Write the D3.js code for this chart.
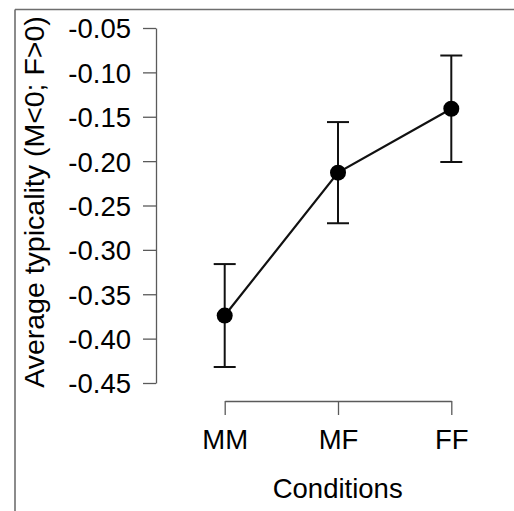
<!DOCTYPE html>
<html>
<head>
<meta charset="utf-8">
<script src="https://cdn.jsdelivr.net/npm/d3@7"></script>
<style>
  html, body { margin: 0; padding: 0; background: #fff; }
  svg { display: block; font-family: "Liberation Sans", Arial, sans-serif; }
</style>
</head>
<body>
<svg id="chart" width="514" height="511"></svg>
<script>
// Condition means with their error-bar limits
const conditions = ["MM", "MF", "FF"];
const means = [-0.374, -0.213, -0.141];
const lower = [-0.432, -0.270, -0.201];
const upper = [-0.316, -0.156, -0.081];
const yTicks = [-0.45, -0.40, -0.35, -0.30, -0.25, -0.20, -0.15, -0.10, -0.05];
const yTickLabels = ["-0.45", "-0.40", "-0.35", "-0.30", "-0.25", "-0.20", "-0.15", "-0.10", "-0.05"];

const svg = d3.select("#chart");
const axisColor = "#5a5a5a";
const ink = "#111";

// Frame edges
svg.append("line").attr("x1", 15).attr("x2", 514).attr("y1", 9.5).attr("y2", 9.5)
  .attr("stroke", "#6e6e6e").attr("stroke-width", 1.6);
svg.append("line").attr("x1", 15).attr("x2", 15).attr("y1", 9.5).attr("y2", 511)
  .attr("stroke", "#6e6e6e").attr("stroke-width", 1.6);

const x = d3.scaleLinear().domain([0, 2]).range([224.7, 451.3]);
const y = d3.scaleLinear().domain([-0.45, -0.05]).range([383, 28]);

// Y axis
const yAxis = svg.append("g").attr("transform", "translate(156,0)")
  .call(d3.axisLeft(y).tickValues(yTicks).tickSize(13).tickSizeOuter(0).tickPadding(12)
    .tickFormat((d, i) => yTickLabels[i]));
yAxis.select(".domain").attr("stroke", axisColor).attr("stroke-width", 1.3);
yAxis.selectAll(".tick line").attr("stroke", axisColor).attr("stroke-width", 1.3);
yAxis.selectAll(".tick text").attr("font-size", 27.5).attr("fill", "#000")
  .attr("font-family", "Liberation Sans, Arial, sans-serif").attr("dy", "0.36em");

// X axis
const xAxis = svg.append("g").attr("transform", "translate(0,401)")
  .call(d3.axisBottom(x).tickValues([0, 1, 2]).tickSize(14).tickSizeOuter(0).tickPadding(14)
    .tickFormat((d, i) => conditions[i]));
xAxis.select(".domain").attr("stroke", axisColor).attr("stroke-width", 1.3);
xAxis.selectAll(".tick line").attr("stroke", axisColor).attr("stroke-width", 1.3);
xAxis.selectAll(".tick text").attr("font-size", 27.5).attr("fill", "#000")
  .attr("font-family", "Liberation Sans, Arial, sans-serif");

// Axis titles
svg.append("text").attr("x", 337.7).attr("y", 498).attr("text-anchor", "middle")
  .attr("font-size", 27.5).attr("fill", "#000").text("Conditions");
svg.append("text").attr("transform", "translate(44,202) rotate(-90)")
  .attr("text-anchor", "middle").attr("font-size", 28.5).attr("fill", "#000")
  .text("Average typicality (M<0; F>0)");

// Error bars
const capHalf = 11;
const bars = svg.append("g").attr("stroke", ink).attr("stroke-width", 2);
conditions.forEach((c, i) => {
  const cx = x(i);
  bars.append("line").attr("x1", cx).attr("x2", cx).attr("y1", y(lower[i])).attr("y2", y(upper[i]));
  bars.append("line").attr("x1", cx - capHalf).attr("x2", cx + capHalf).attr("y1", y(lower[i])).attr("y2", y(lower[i]));
  bars.append("line").attr("x1", cx - capHalf).attr("x2", cx + capHalf).attr("y1", y(upper[i])).attr("y2", y(upper[i]));
});

// Connecting line and points
const line = d3.line().x((d, i) => x(i)).y(d => y(d));
svg.append("path").datum(means).attr("d", line).attr("fill", "none")
  .attr("stroke", ink).attr("stroke-width", 2.2);
svg.append("g").selectAll("circle").data(means).join("circle")
  .attr("cx", (d, i) => x(i)).attr("cy", d => y(d)).attr("r", 8).attr("fill", "#000");
</script>
</body>
</html>
